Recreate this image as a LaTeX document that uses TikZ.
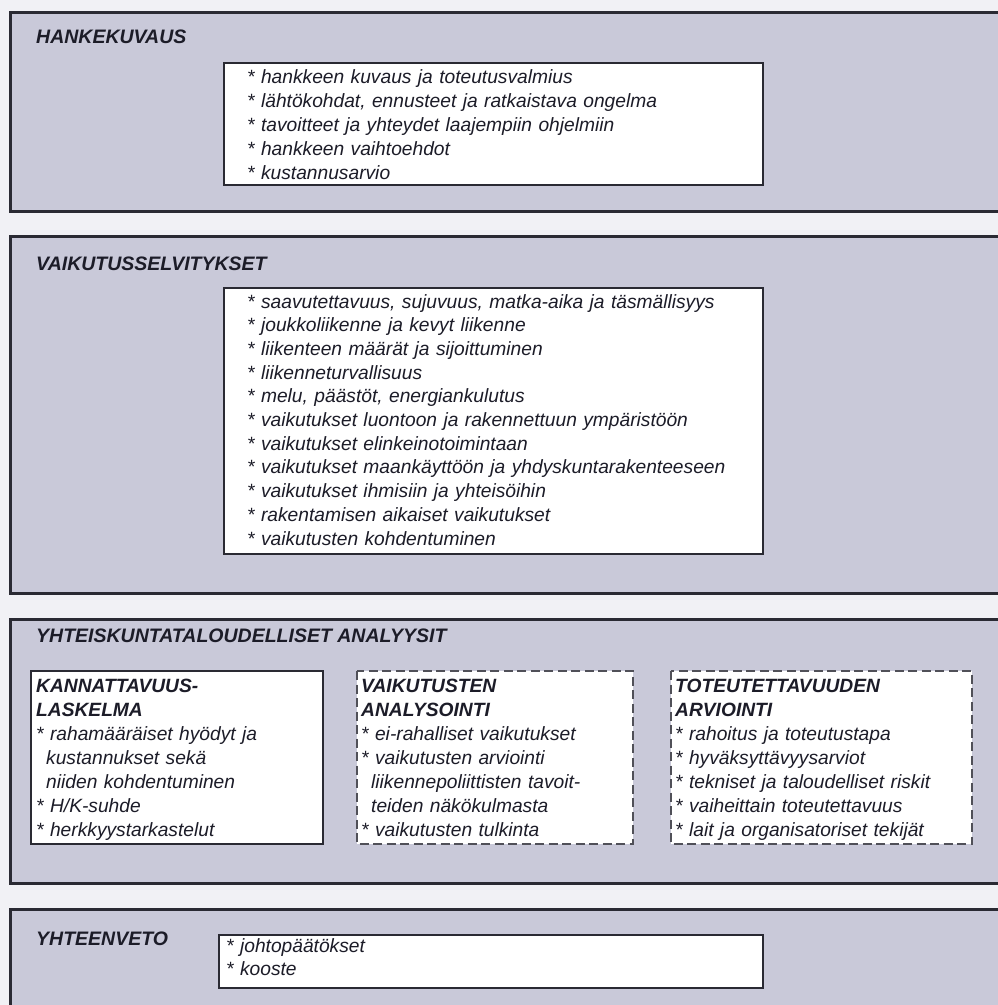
\documentclass[tikz,border=0pt]{standalone}
\usepackage{fontspec}
\setmainfont{Liberation Sans}
\definecolor{pagec}{HTML}{F1F1F5}
\definecolor{panelc}{HTML}{C9C9D9}
\definecolor{bordc}{HTML}{2A2A33}
\definecolor{dashc}{HTML}{505058}
\definecolor{txtc}{HTML}{1C1C28}
\begin{document}
\begin{tikzpicture}[x=1pt,y=-1pt,
  panel/.style={draw=bordc, line width=3pt, fill=panelc},
  innerbox/.style={draw=bordc, line width=2.8pt, fill=white},
  dashbox/.style={draw=dashc, line width=2.4pt, fill=white, dash pattern=on 9pt off 4.5pt},
  title/.style={anchor=base west, inner sep=0pt, text=txtc,
    font=\fontsize{19.5}{24}\selectfont\bfseries\itshape},
  items/.style={anchor=base west, inner sep=0pt, text=txtc, align=left,
    text width=#1, font=\fontsize{19.2}{24}\selectfont\itshape},
  items/.default=520pt
]
\useasboundingbox (0,0) rectangle (998,1005);
\clip (0,0) rectangle (998,1005);
\fill[pagec] (0,0) rectangle (998,1005);

% ---- panel 1
\draw[panel] (10,12) rectangle (1020,211);
\node[title] (t1) at (36,43) {HANKEKUVAUS};
\draw[innerbox] (224,63) rectangle (763,185);
\node[items] (l1) at (247,83) {{*} hankkeen kuvaus ja toteutusvalmius\\
{*} lähtökohdat, ennusteet ja ratkaistava ongelma\\
{*} tavoitteet ja yhteydet laajempiin ohjelmiin\\
{*} hankkeen vaihtoehdot\\
{*} kustannusarvio};

% ---- panel 2
\draw[panel] (10,236) rectangle (1020,593);
\node[title] (t2) at (36,270) {VAIKUTUSSELVITYKSET};
\draw[innerbox] (224,288) rectangle (763,554);
\node[items, font=\fontsize{19.2}{23.7}\selectfont\itshape] (l2) at (247,308) {{*} saavutettavuus, sujuvuus, matka-aika ja täsmällisyys\\
{*} joukkoliikenne ja kevyt liikenne\\
{*} liikenteen määrät ja sijoittuminen\\
{*} liikenneturvallisuus\\
{*} melu, päästöt, energiankulutus\\
{*} vaikutukset luontoon ja rakennettuun ympäristöön\\
{*} vaikutukset elinkeinotoimintaan\\
{*} vaikutukset maankäyttöön ja yhdyskuntarakenteeseen\\
{*} vaikutukset ihmisiin ja yhteisöihin\\
{*} rakentamisen aikaiset vaikutukset\\
{*} vaikutusten kohdentuminen};

% ---- panel 3
\draw[panel] (10,619) rectangle (1020,883);
\node[title] (t3) at (36,642) {YHTEISKUNTATALOUDELLISET ANALYYSIT};
\draw[innerbox] (31,671) rectangle (323,844);
\draw[dashbox] (357,671) rectangle (633,844);
\draw[dashbox] (671,671) rectangle (972,844);
\node[items=285pt] (s1) at (36,692) {\textbf{KANNATTAVUUS-}\\
\textbf{LASKELMA}\\
{*} rahamääräiset hyödyt ja\\
\hspace*{10pt}kustannukset sekä\\
\hspace*{10pt}niiden kohdentuminen\\
{*} H/K-suhde\\
{*} herkkyystarkastelut};
\node[items=270pt] (s2) at (361,692) {\textbf{VAIKUTUSTEN}\\
\textbf{ANALYSOINTI}\\
{*} ei-rahalliset vaikutukset\\
{*} vaikutusten arviointi\\
\hspace*{10pt}liikennepoliittisten tavoit-\\
\hspace*{10pt}teiden näkökulmasta\\
{*} vaikutusten tulkinta};
\node[items=295pt] (s3) at (675,692) {\textbf{TOTEUTETTAVUUDEN}\\
\textbf{ARVIOINTI}\\
{*} rahoitus ja toteutustapa\\
{*} hyväksyttävyysarviot\\
{*} tekniset ja taloudelliset riskit\\
{*} vaiheittain toteutettavuus\\
{*} lait ja organisatoriset tekijät};

% ---- panel 4
\draw[panel] (10,909) rectangle (1020,1030);
\node[title] (t4) at (36,945) {YHTEENVETO};
\draw[innerbox] (219,935) rectangle (763,988);
\node[items, font=\fontsize{19.2}{23.5}\selectfont\itshape] (l4) at (226,952) {{*} johtopäätökset\\
{*} kooste};
\end{tikzpicture}
\end{document}
